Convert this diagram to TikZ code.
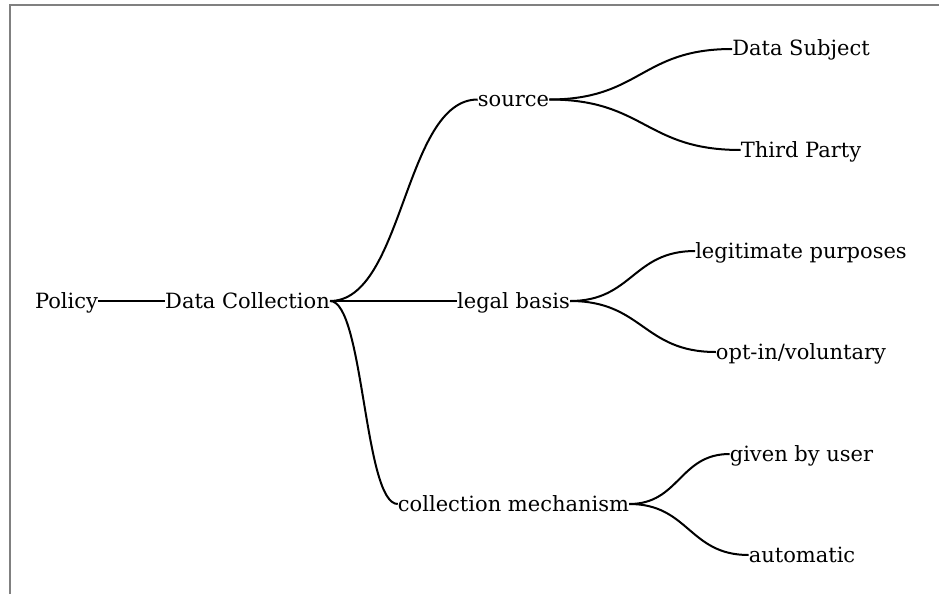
\documentclass[tikz,border=0pt]{standalone}
\usepackage{fontspec}
\setmainfont{DejaVu Serif}
\usetikzlibrary{calc}
\tikzset{
  lvl/.style={inner sep=0pt,text height=17pt,text depth=3pt},
  ag/.style={line width=2pt},
  hlink/.style={to path={let \p1=(\tikztostart),\p2=(\tikztotarget),\n1={(\x1+\x2)/2} in
    .. controls (\n1,\y1) and (\n1,\y2) .. (\tikztotarget)}},
  keret/.style={draw=gray,line width=1.5pt},
}
\begin{document}
\begin{tikzpicture}[x=1pt,y=-1pt,font=\fontsize{21}{25}\selectfont]
  \useasboundingbox (0,0) rectangle (939,594);
  \draw[keret] (10,594) -- (10,5) -- (939,5);
  % gyoker es elso szint
  \node[lvl] (pol) at (66.5,301) {Policy};
  \node[lvl] (dc) at (247.5,301) {Data Collection};
  % masodik szint
  \node[lvl] (src) at (513.5,99.5) {source};
  \node[lvl] (lb) at (513.5,301) {legal basis};
  \node[lvl] (cm) at (513.5,504) {collection mechanism};
  % levelek
  \node[lvl] (ds) at (801,49) {Data Subject};
  \node[lvl] (tp) at (801,150) {Third Party};
  \node[lvl] (lp) at (801,251) {legitimate purposes};
  \node[lvl] (oi) at (801,352) {opt-in/voluntary};
  \node[lvl] (gu) at (801.5,454) {given by user};
  \node[lvl] (au) at (802,555) {automatic};
  \draw[ag] (pol.east) -- (dc.west);
  \foreach \a/\b in {dc/src,dc/lb,dc/cm,src/ds,src/tp,lb/lp,lb/oi,cm/gu,cm/au}
    \draw[ag] (\a.east) to[hlink] (\b.west);
\end{tikzpicture}
\end{document}
